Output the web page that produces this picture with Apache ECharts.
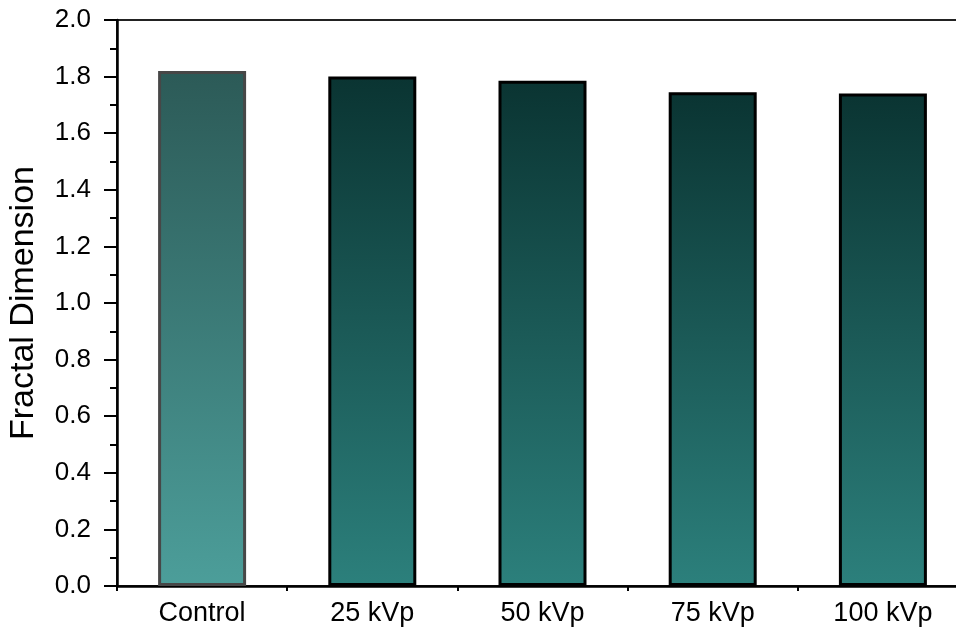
<!DOCTYPE html>
<html>
<head>
<meta charset="utf-8">
<script src="https://cdn.jsdelivr.net/npm/echarts@6/dist/echarts.min.js"></script>
<style>html,body{margin:0;padding:0;background:#fff;}#c{width:956px;height:630px;}</style>
</head>
<body>
<div id="c"></div>
<script>
var categories = ['Control', '25 kVp', '50 kVp', '75 kVp', '100 kVp'];
var values = [1.82, 1.80, 1.785, 1.745, 1.74];
var topColors = ['#2c5a57', '#0a3432', '#0a3432', '#0a3432', '#0a3432'];
var bottomColors = ['#4c9e9a', '#2c807c', '#2c807c', '#2c807c', '#2c807c'];
var borderColors = ['#474747', '#000000', '#000000', '#000000', '#000000'];
var yTicks = [0, 2, 0.2];

var font = 'Liberation Sans, Arial, sans-serif';
var chart = echarts.init(document.getElementById('c'), null, {renderer: 'canvas'});
var data = values.map(function (v, i) {
  return {
    value: v,
    itemStyle: {
      color: new echarts.graphic.LinearGradient(0, 0, 0, 1, [
        {offset: 0, color: topColors[i]},
        {offset: 1, color: bottomColors[i]}
      ]),
      borderColor: borderColors[i],
      borderWidth: 3
    }
  };
});
chart.setOption({
  animation: false,
  backgroundColor: '#fff',
  grid: {left: 117, top: 20, width: 851, height: 566, show: true, borderColor: '#222', borderWidth: 2,
    backgroundColor: 'transparent', containLabel: false, outerBoundsMode: 'none'},
  xAxis: [{
    type: 'category', data: categories, position: 'bottom',
    axisLine: {lineStyle: {color: '#000', width: 2.5}},
    axisTick: {alignWithLabel: true, length: 8, lineStyle: {color: '#000', width: 2}},
    axisLabel: {color: '#000', fontSize: 27, fontFamily: font, margin: 14}
  }, {
    type: 'category', data: categories, position: 'bottom',
    axisLine: {show: false},
    axisTick: {show: true, length: 5, lineStyle: {color: '#000', width: 2}},
    axisLabel: {show: false}
  }],
  yAxis: {
    type: 'value', min: yTicks[0], max: yTicks[1], interval: yTicks[2],
    name: 'Fractal Dimension', nameLocation: 'middle', nameGap: 76,
    nameTextStyle: {color: '#000', fontSize: 34, fontFamily: font},
    axisLine: {show: true, lineStyle: {color: '#000', width: 2.5}},
    axisTick: {show: true, length: 13, lineStyle: {color: '#000', width: 2}},
    minorTick: {show: true, splitNumber: 2, length: 7, lineStyle: {color: '#000', width: 2}},
    splitLine: {show: false},
    axisLabel: {color: '#000', fontSize: 26, fontFamily: font, margin: 26,
      formatter: function (v) { return v.toFixed(1); }}
  },
  series: [{
    type: 'bar', data: data, barWidth: 88, xAxisIndex: 0
  }]
});
</script>
</body>
</html>
